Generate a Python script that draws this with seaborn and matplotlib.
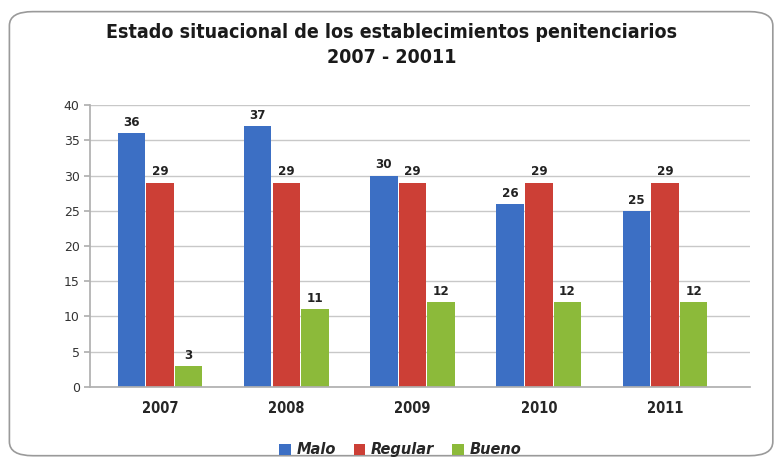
import matplotlib
matplotlib.use("Agg")
import matplotlib.pyplot as plt
import seaborn as sns
import pandas as pd
from matplotlib.patches import FancyBboxPatch

years = ["2007", "2008", "2009", "2010", "2011"]
malo = [36, 37, 30, 26, 25]
regular = [29, 29, 29, 29, 29]
bueno = [3, 11, 12, 12, 12]
series_names = ["Malo", "Regular", "Bueno"]
colors = ["#3C6FC4", "#CC3F36", "#8CBA3A"]
yticks = [0, 5, 10, 15, 20, 25, 30, 35, 40]
title = "Estado situacional de los establecimientos penitenciarios\n2007 - 20011"

df = pd.DataFrame({
    "year": years * 3,
    "serie": [series_names[0]] * 5 + [series_names[1]] * 5 + [series_names[2]] * 5,
    "valor": malo + regular + bueno,
})

sns.set_theme(style="white")
plt.rcParams['font.family'] = ['DejaVu Sans']

fig = plt.figure(figsize=(7.83, 4.65), dpi=100)
fig.patch.set_facecolor("white")
border = FancyBboxPatch((0.012, 0.02), 0.975, 0.955, boxstyle="round,pad=0,rounding_size=0.03",
                        transform=fig.transFigure, facecolor="none", edgecolor="#9a9a9a", lw=1.2,
                        zorder=-1)
fig.patches.append(border)

ax = fig.add_axes([0.115, 0.168, 0.843, 0.606])
ax.patch.set_alpha(0)
sns.barplot(data=df, x="year", y="valor", hue="serie", palette=colors, ax=ax,
            width=0.68, gap=0.04, edgecolor="none", saturation=1, legend=True)
ax.set_xlim(-0.554, 4.673)
ax.set_ylim(0, 40)
ax.set_yticks(yticks)
ax.set_yticklabels([str(t) for t in yticks], fontsize=9, color="#333333")
ax.yaxis.grid(True, color="#c8c8c8", lw=1)
ax.set_axisbelow(True)
ax.set_xlabel("")
ax.set_ylabel("")
ax.tick_params(axis="x", labelsize=10.5, length=0, pad=10)
for lbl in ax.get_xticklabels():
    lbl.set_fontweight("bold")
    lbl.set_fontstretch("condensed")
for s in ["top", "right"]:
    ax.spines[s].set_visible(False)
ax.spines["left"].set_color("#b0b0b0")
ax.spines["bottom"].set_color("#b0b0b0")
ax.tick_params(axis="y", length=4, color="#b0b0b0", left=True)

for cont in ax.containers:
    ax.bar_label(cont, fmt="%d", fontsize=9.5, fontweight="bold", color="#222222", padding=3,
                 fontstretch="condensed")

leg = ax.legend(loc="upper center", bbox_to_anchor=(0.47, -0.15), ncol=3, frameon=False,
                handlelength=0.8, handleheight=0.8, columnspacing=1.2, handletextpad=0.4,
                prop={"style": "italic", "weight": "bold", "size": 10.5})

fig.text(0.5, 0.903, title, ha="center", va="center", fontsize=14, fontweight="bold",
         fontstretch="condensed", color="#1a1a1a", linespacing=1.35)

fig.savefig("out.png", dpi=100)
